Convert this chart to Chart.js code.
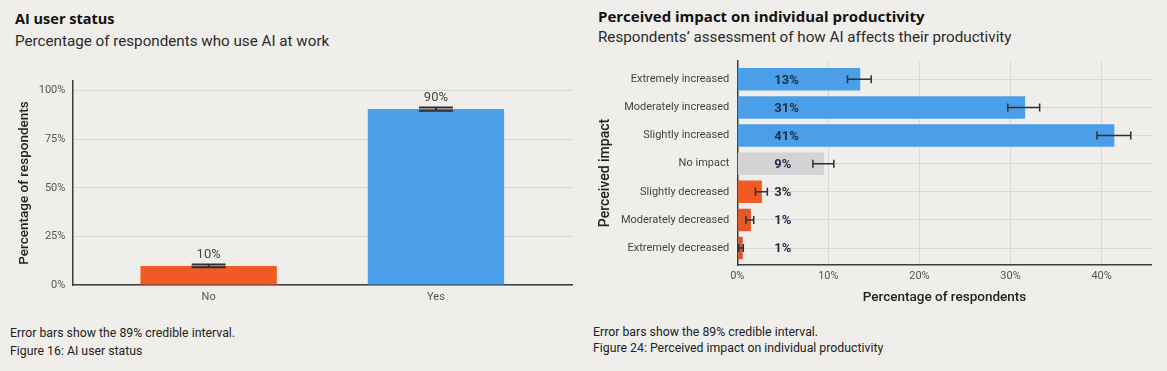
<!DOCTYPE html>
<html>
<head>
<meta charset="utf-8">
<script src="https://cdn.jsdelivr.net/npm/chart.js@4.4.1/dist/chart.umd.min.js"></script>
<style>
  body { margin: 0; background: #efeeeb; font-family: Roboto, "Noto Sans", sans-serif; color: #1f1f1f; }
  #page { position: relative; width: 1167px; height: 371px; overflow: hidden; }
  .txt { position: absolute; white-space: nowrap; }
  .title { font-family: "Open Sans", Roboto, sans-serif; font-weight: 700; font-size: 14.5px; color: #111; }
  .sub { font-size: 15.2px; color: #2a2a2a; }
  .note { font-size: 12.3px; color: #222; }
  .axt { font-size: 14px; font-weight: 500; color: #222; transform: rotate(-90deg); transform-origin: center; }
  .box { position: absolute; }
</style>
</head>
<body>
<div id="page">
  <div class="txt title" style="left:15px; top:9px;">AI user status</div>
  <div class="txt sub" style="left:15px; top:32px;">Percentage of respondents who use AI at work</div>
  <div class="box" style="left:0; top:0; width:585px; height:320px;"><canvas id="userChart"></canvas></div>
  <div class="txt note" style="left:10px; top:326px;">Error bars show the 89% credible interval.</div>
  <div class="txt note" style="left:10px; top:344px;">Figure 16: AI user status</div>

  <div class="txt title" style="left:598px; top:6px; font-size:15px;">Perceived impact on individual productivity</div>
  <div class="txt sub" style="left:598px; top:28px;">Respondents’ assessment of how AI affects their productivity</div>
  <div class="box" style="left:590px; top:0; width:577px; height:320px;"><canvas id="impactChart"></canvas></div>
  <div class="txt axt" style="left:548px; top:165px; width:112px; text-align:center;">Perceived impact</div>
  <div class="txt note" style="left:593px; top:325px;">Error bars show the 89% credible interval.</div>
  <div class="txt note" style="left:593px; top:341px;">Figure 24: Perceived impact on individual productivity</div>
</div>
<script>
// AI user status
const userLabels = ['No', 'Yes'];
const userShare = [9.8, 90.6];
const userLow = [9.1, 89.7];
const userHigh = [10.6, 91.4];
const userText = ['10%', '90%'];
const userColors = ['#f05a24', '#4a9fe8'];
const userTicks = [0, 25, 50, 75, 100];

// Perceived impact
const impactLabels = ['Extremely increased', 'Moderately increased', 'Slightly increased', 'No impact',
  'Slightly decreased', 'Moderately decreased', 'Extremely decreased'];
const impactShare = [13.5, 31.6, 41.4, 9.5, 2.7, 1.5, 0.6];
const impactLow = [12.1, 29.7, 39.5, 8.3, 2.0, 0.95, 0.15];
const impactHigh = [14.7, 33.2, 43.2, 10.6, 3.3, 1.8, 0.66];
const impactText = ['13%', '31%', '41%', '9%', '3%', '1%', '1%'];
const impactColors = ['#4a9fe8', '#4a9fe8', '#4a9fe8', '#d3d3d3', '#f05a24', '#e4592a', '#d65a2d'];
const impactTicks = [0, 10, 20, 30, 40];

Chart.defaults.font.family = 'Roboto, "Noto Sans", sans-serif';
Chart.defaults.animation = false;

const axisColor = '#3c3c3c';
const gridColor = '#d9d8d5';
const tickColor = '#555';

// draws the error bars and the value labels
const errorBars = {
  id: 'errorBars',
  afterDatasetsDraw(chart, args, opts) {
    const c = chart.ctx;
    const horiz = chart.options.indexAxis === 'y';
    const vs = horiz ? chart.scales.x : chart.scales.y;
    const is = horiz ? chart.scales.y : chart.scales.x;
    c.save();
    c.strokeStyle = '#2b2f36';
    c.lineWidth = opts.width;
    opts.low.forEach((lo, i) => {
      const p1 = vs.getPixelForValue(lo);
      const p2 = vs.getPixelForValue(opts.high[i]);
      const m = is.getPixelForValue(i);
      const h = opts.cap / 2;
      c.beginPath();
      if (horiz) {
        c.moveTo(p1, m); c.lineTo(p2, m);
        c.moveTo(p1, m - h); c.lineTo(p1, m + h);
        c.moveTo(p2, m - h); c.lineTo(p2, m + h);
      } else {
        c.moveTo(m, p1); c.lineTo(m, p2);
        c.moveTo(m - h, p1); c.lineTo(m + h, p1);
        c.moveTo(m - h, p2); c.lineTo(m + h, p2);
      }
      c.stroke();
    });
    c.font = opts.font;
    c.fillStyle = opts.color;
    c.textBaseline = 'middle';
    opts.text.forEach((t, i) => {
      const m = is.getPixelForValue(i);
      if (horiz) {
        c.textAlign = 'left';
        c.fillText(t, chart.chartArea.left + 37, m + 1);
      } else {
        c.textAlign = 'center';
        c.fillText(t, m, vs.getPixelForValue(opts.high[i]) - 10);
      }
    });
    c.restore();
  }
};

new Chart(document.getElementById('userChart'), {
  type: 'bar',
  data: {
    datasets: [{
      data: userShare.map((v, i) => ({ x: i, y: v })),
      backgroundColor: userColors,
      categoryPercentage: 0.8,
      barPercentage: 0.75
    }]
  },
  plugins: [errorBars],
  options: {
    responsive: true,
    maintainAspectRatio: false,
    layout: { padding: { left: 0, right: 12.7, top: 81, bottom: 0 } },
    plugins: {
      legend: { display: false },
      tooltip: { enabled: false },
      errorBars: { low: userLow, high: userHigh, text: userText, cap: 34, width: 2,
        font: '13px Roboto, "Noto Sans", sans-serif', color: '#444' }
    },
    scales: {
      x: {
        type: 'linear', min: -0.6, max: 1.6, offset: false,
        afterBuildTicks: s => { s.ticks = userLabels.map((l, i) => ({ value: i })); },
        afterFit: s => { s.height = 35; },
        ticks: { callback: v => userLabels[v], color: tickColor, font: { size: 11 }, padding: -2, maxRotation: 0 },
        grid: { display: false, offset: false },
        border: { color: axisColor, width: 1.5 }
      },
      y: {
        min: 0, max: 105,
        afterBuildTicks: s => { s.ticks = userTicks.map(v => ({ value: v })); },
        afterFit: s => { s.width = 72.3; },
        ticks: { callback: v => v + '%', color: tickColor, font: { size: 11 }, padding: 7 },
        grid: { color: gridColor, lineWidth: 1, drawTicks: false },
        border: { color: axisColor, width: 1.5 },
        title: { display: true, text: 'Percentage of respondents', color: '#222',
          font: { size: 13.5, weight: '500' }, padding: { top: 17 } }
      }
    }
  }
});

new Chart(document.getElementById('impactChart'), {
  type: 'bar',
  data: {
    datasets: [{
      data: impactShare.map((v, i) => ({ x: v, y: i })),
      backgroundColor: impactColors,
      categoryPercentage: 0.8,
      barPercentage: 1.0
    }]
  },
  plugins: [errorBars],
  options: {
    indexAxis: 'y',
    responsive: true,
    maintainAspectRatio: false,
    layout: { padding: { left: 0, right: 15.3, top: 61, bottom: 0 } },
    plugins: {
      legend: { display: false },
      tooltip: { enabled: false },
      errorBars: { low: impactLow, high: impactHigh, text: impactText, cap: 8, width: 1.5,
        font: 'bold 13px Roboto, "Noto Sans", sans-serif', color: '#1f2d44' }
    },
    scales: {
      x: {
        min: 0, max: 45.5,
        afterBuildTicks: s => { s.ticks = impactTicks.map(v => ({ value: v })); },
        afterFit: s => { s.height = 55; },
        ticks: { callback: v => v + '%', color: tickColor, font: { size: 11 }, padding: 5, maxRotation: 0 },
        grid: { color: gridColor, drawTicks: false },
        border: { color: axisColor, width: 1.5 },
        title: { display: true, text: 'Percentage of respondents', color: '#222',
          font: { size: 13.5, weight: '500' }, padding: { bottom: 14 } }
      },
      y: {
        type: 'linear', min: -0.65, max: 6.6, reverse: true, offset: false,
        afterBuildTicks: s => { s.ticks = impactLabels.map((l, i) => ({ value: i })); },
        afterFit: s => { s.width = 147.3; },
        ticks: { callback: v => impactLabels[v], color: '#444', font: { size: 11 }, padding: 8 },
        grid: { color: gridColor, drawTicks: false, offset: false },
        border: { color: axisColor, width: 1.5 }
      }
    }
  }
});
</script>
</body>
</html>
